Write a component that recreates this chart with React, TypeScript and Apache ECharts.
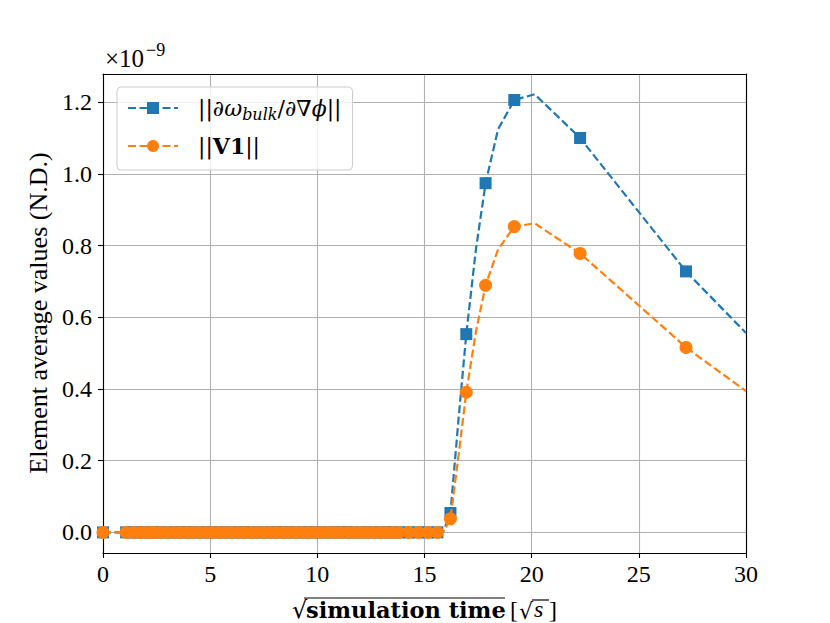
import React, { useEffect, useRef } from 'react';
import * as echarts from 'echarts';

// sqrt(simulation time) sampling positions
const simTime = [
  0, 1.08, 1.45, 1.75, 2.0, 2.25,
  2.4, 2.7, 3.0, 3.3, 3.6, 3.9, 4.2, 4.5, 4.8, 5.1, 5.4, 5.7, 6.0, 6.3, 6.6, 6.9, 7.2,
  7.5, 7.8, 8.1, 8.4, 8.7, 9.0, 9.3, 9.6, 9.9, 10.2, 10.5, 10.8, 11.1, 11.4,
  11.7, 12.0, 12.3, 12.6, 12.9, 13.2, 13.5, 13.8, 14.25, 14.7, 15.15, 15.6,
  15.9, 16.21, 16.6, 16.95, 17.4, 17.85, 18.43, 19.19, 20.14, 22.26, 24.7, 27.2, 30.0,
];

// ||d omega_bulk / d grad phi||  (x 1e-9)
const gradNorm = [
  0, 0, 0, 0, 0, 0,
  0, 0, 0, 0, 0, 0, 0, 0, 0, 0, 0, 0, 0, 0, 0, 0, 0,
  0, 0, 0, 0, 0, 0, 0, 0, 0, 0, 0, 0, 0, 0,
  0, 0, 0, 0, 0, 0, 0, 0, 0, 0, 0, 0,
  0.005, 0.054, 0.324, 0.553, 0.79, 0.974, 1.124, 1.206, 1.222, 1.1, 0.916, 0.728, 0.556,
];

// ||V1||  (x 1e-9)
const v1Norm = [
  0, 0, 0, 0, 0, 0,
  0, 0, 0, 0, 0, 0, 0, 0, 0, 0, 0, 0, 0, 0, 0, 0, 0,
  0, 0, 0, 0, 0, 0, 0, 0, 0, 0, 0, 0, 0, 0,
  0, 0, 0, 0, 0, 0, 0, 0, 0, 0, 0, 0,
  0.004, 0.038, 0.22, 0.391, 0.56, 0.689, 0.789, 0.853, 0.862, 0.778, 0.649, 0.516, 0.394,
];

// sample positions drawn without a marker
const unmarkedTimes = [15.9, 16.6, 17.4, 18.43, 20.14, 24.7, 30.0];

const yTicks = [0, 0.2, 0.4, 0.6, 0.8, 1.0, 1.2];

const SERIF = 'Liberation Serif';
const WIDE = 'DejaVu Serif';

export default function App() {
  const ref = useRef<HTMLDivElement>(null);

  useEffect(() => {
    document.body.style.margin = '0';
    const chart = echarts.init(ref.current!, null, { renderer: 'svg' });

    const build = (vals: number[]) =>
      simTime.map((x, i) =>
        unmarkedTimes.includes(x)
          ? { value: [x, vals[i]], symbol: 'none' }
          : { value: [x, vals[i]] }
      );

    const blue = '#1f77b4';
    const orange = '#ff7f0e';
    const spine = { show: true, onZero: false, lineStyle: { color: '#000', width: 1.1 } };
    const yMin = -0.0575;
    const yMax = 1.2785;

    chart.setOption({
      animation: false,
      grid: { left: 103, right: 84, top: 74, bottom: 70, show: false },
      xAxis: [
        {
          type: 'value',
          min: 0,
          max: 30,
          interval: 5,
          axisLine: spine,
          axisTick: { show: true, inside: false, length: 5, lineStyle: { color: '#000', width: 1.1 } },
          axisLabel: { fontFamily: SERIF, fontSize: 24, color: '#000', margin: 9 },
          splitLine: { show: true, lineStyle: { color: '#b0b0b0', width: 1.1 } },
        },
        {
          type: 'value',
          position: 'top',
          min: 0,
          max: 30,
          interval: 5,
          axisLine: spine,
          axisTick: { show: false },
          axisLabel: { show: false },
          splitLine: { show: false },
        },
      ],
      yAxis: [
        {
          type: 'value',
          min: yMin,
          max: yMax,
          axisLine: spine,
          axisTick: {
            show: true, inside: false, length: 5,
            customValues: yTicks,
            lineStyle: { color: '#000', width: 1.1 },
          },
          axisLabel: {
            fontFamily: SERIF, fontSize: 24, color: '#000', margin: 11,
            customValues: yTicks,
            formatter: (v: number) => v.toFixed(1),
          },
          splitLine: { show: true, lineStyle: { color: '#b0b0b0', width: 1.1 } },
        },
        {
          type: 'value',
          position: 'right',
          min: yMin,
          max: yMax,
          axisLine: spine,
          axisTick: { show: false },
          axisLabel: { show: false },
          splitLine: { show: false },
        },
      ],
      legend: {
        orient: 'vertical',
        left: 117,
        top: 87,
        padding: [7, 11, 10, 10],
        itemGap: 10,
        itemWidth: 50,
        itemHeight: 15,
        backgroundColor: 'rgba(255,255,255,0.8)',
        borderColor: '#cccccc',
        borderWidth: 1,
        borderRadius: 4,
        data: ['grad', 'v1'],
        formatter: (name: string) =>
          name === 'grad'
            ? '{g|}{n|||∂}{i|ω}{s|bulk}{n|/∂∇}{i|ϕ}{n|||}'
            : '{g|}{n|||}{b|V1}{n|||}',
        textStyle: {
          fontFamily: WIDE,
          fontSize: 22,
          color: '#000',
          lineHeight: 28,
          rich: {
            g: { width: 15 },
            n: { fontFamily: WIDE, fontSize: 22, lineHeight: 28, color: '#000' },
            i: { fontFamily: WIDE, fontSize: 22, fontStyle: 'italic', lineHeight: 28, color: '#000' },
            b: { fontFamily: WIDE, fontSize: 22, fontWeight: 'bold', lineHeight: 28, color: '#000' },
            s: { fontFamily: WIDE, fontSize: 16, fontStyle: 'italic', lineHeight: 10, verticalAlign: 'bottom', color: '#000' },
          },
        },
      },
      series: [
        {
          name: 'grad',
          type: 'line',
          data: build(gradNorm),
          symbol: 'rect',
          symbolSize: 12,
          showAllSymbol: true,
          clip: true,
          itemStyle: { color: blue },
          lineStyle: { color: blue, width: 2.2, type: [8, 3.5] },
          z: 2,
        },
        {
          name: 'v1',
          type: 'line',
          data: build(v1Norm),
          symbol: 'circle',
          symbolSize: 13,
          showAllSymbol: true,
          clip: true,
          itemStyle: { color: orange },
          lineStyle: { color: orange, width: 2.2, type: [8, 3.5] },
          z: 3,
        },
      ],
      graphic: [
        // offset text
        {
          type: 'text', left: 105, top: 46,
          style: { text: '×10', fontFamily: SERIF, fontSize: 25, fill: '#000' },
        },
        {
          type: 'text', left: 146, top: 41,
          style: { text: '−9', fontFamily: SERIF, fontSize: 18, fill: '#000' },
        },
        // y axis title
        {
          type: 'text', x: 38, y: 313, rotation: Math.PI / 2,
          style: {
            text: 'Element average values (N.D.)', fontFamily: SERIF, fontSize: 26,
            fill: '#000', align: 'center', verticalAlign: 'middle',
          },
        },
        // x axis title
        {
          type: 'text', x: 292, y: 622,
          style: { text: '√', fontFamily: WIDE, fontSize: 24, fill: '#000', verticalAlign: 'bottom' },
        },
        {
          type: 'text', x: 306, y: 621,
          style: { text: 'simulation time', fontFamily: WIDE, fontWeight: 'bold', fontSize: 22.5, fill: '#000', verticalAlign: 'bottom' },
        },
        {
          type: 'line', shape: { x1: 304, y1: 598, x2: 505, y2: 598 },
          style: { stroke: '#000', lineWidth: 1.2 },
        },
        {
          type: 'text', x: 510, y: 622,
          style: { text: '[', fontFamily: SERIF, fontSize: 24, fill: '#000', verticalAlign: 'bottom' },
        },
        {
          type: 'text', x: 519, y: 622,
          style: { text: '√', fontFamily: WIDE, fontSize: 22, fill: '#000', verticalAlign: 'bottom' },
        },
        {
          type: 'text', x: 534, y: 621,
          style: { text: 's', fontFamily: SERIF, fontStyle: 'italic', fontSize: 24, fill: '#000', verticalAlign: 'bottom' },
        },
        {
          type: 'line', shape: { x1: 532, y1: 600, x2: 549, y2: 600 },
          style: { stroke: '#000', lineWidth: 1.2 },
        },
        {
          type: 'text', x: 549, y: 622,
          style: { text: ']', fontFamily: SERIF, fontSize: 24, fill: '#000', verticalAlign: 'bottom' },
        },
      ],
    });

    return () => chart.dispose();
  }, []);

  return <div ref={ref} style={{ width: 830, height: 623 }} />;
}
